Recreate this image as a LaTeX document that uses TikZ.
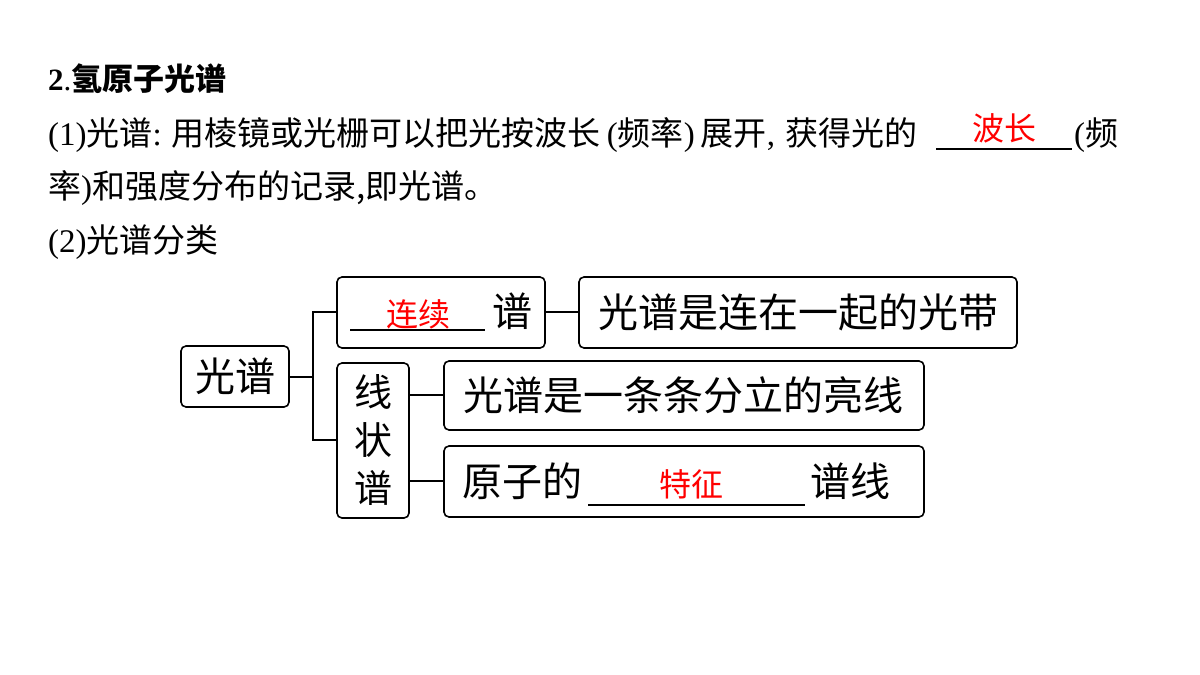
\documentclass[tikz,border=0pt]{standalone}
\usepackage{fontspec}
\setmainfont{Liberation Serif}
\newfontfamily\cjk{Noto Sans CJK SC}
\usetikzlibrary{positioning}
\tikzset{
  box/.style={draw, line width=1.6pt, rounded corners=5pt, inner sep=0pt},
  link/.style={line width=1.4pt},
  body/.style={anchor=base west, inner sep=0pt, font=\fontsize{33}{38}\selectfont},
  big/.style={font=\cjk\fontsize{40}{46}\selectfont},
  ans/.style={text=red, font=\cjk\fontsize{32}{36}\selectfont, inner sep=0pt}
}
\begin{document}
\begin{tikzpicture}[x=1pt,y=-1pt]
  \useasboundingbox (0,0) rectangle (1200,675);
  % heading and text lines
  \node[body, font=\fontsize{31}{36}\selectfont] (title) at (48,90) {\textbf{2}.{\cjk\bfseries 氢原子光谱}};
  \node[body] (l1) at (48,145) {(1){\cjk 光谱}:\hspace{10pt}{\cjk 用棱镜或光栅可以把光按波长}\hspace{6pt}({\cjk 频率})\hspace{6pt}{\cjk 展开},\hspace{10pt}{\cjk 获得光的}};
  \coordinate (u1a) at (936,149);
  \coordinate (u1b) at (1072,149);
  \draw[line width=2pt] (u1a) -- (u1b);
  \node[ans] (a1) at (1004,128) {波长};
  \node[body] (l1b) at (1074,145) {({\cjk 频}};
  \node[body] (l2) at (48,198) {{\cjk 率})\cjk 和强度分布的记录,即光谱。};
  \node[body] (l3) at (48,252) {(2){\cjk 光谱分类}};
  % boxes
  \draw[box] (181,346) rectangle (289,407);
  \node[big] (root) at (235,376) {光谱};
  \draw[box] (337,277) rectangle (545,348);
  \draw[box] (579,277) rectangle (1017,348);
  \node[big] (cont) at (798,312) {光谱是连在一起的光带};
  \draw[box] (337,363) rectangle (409,518);
  \node[big, align=center, font=\cjk\fontsize{38}{48}\selectfont] (line) at (373,440) {线\\状\\谱};
  \draw[box] (444,361) rectangle (924,430);
  \node[big] (bright) at (683,395) {光谱是一条条分立的亮线};
  \draw[box] (444,446) rectangle (924,517);
  % fill-in texts
  \draw[line width=1.2pt] (350,330) -- (485,330);
  \node[ans] (a2) at (418,314) {连续};
  \node[big] (pu) at (512,311) {谱};
  \node[big] (yz) at (522,481) {原子的};
  \draw[line width=1.2pt] (588,505) -- (805,505);
  \node[ans] (a3) at (691,484) {特征};
  \node[big] (px) at (850,481) {谱线};
  % connectors
  \draw[link] (289,377) -- (313,377);
  \draw[link] (337,312) -| (313,440) -- (337,440);
  \draw[link] (545,312) -- (579,312);
  \draw[link] (409,395) -- (444,395);
  \draw[link] (409,481) -- (444,481);
\end{tikzpicture}
\end{document}
